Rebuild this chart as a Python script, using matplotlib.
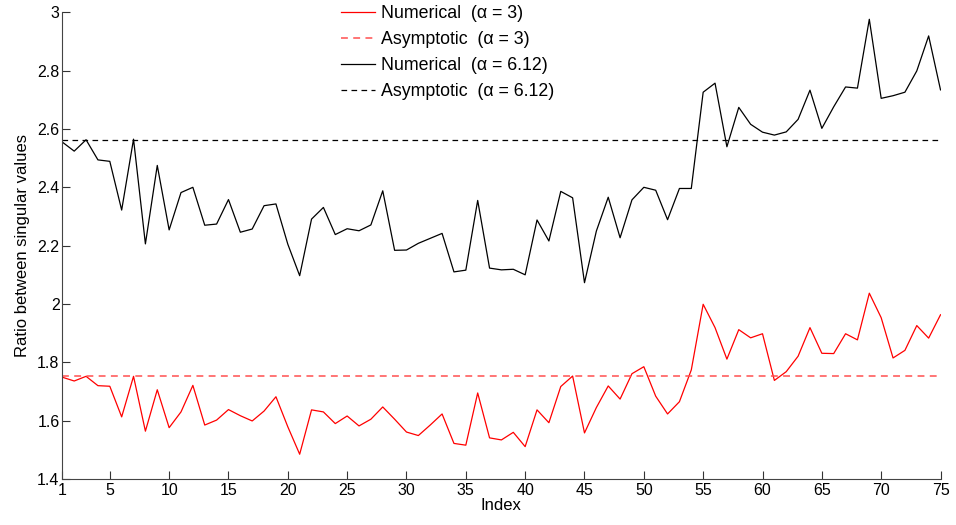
import matplotlib
matplotlib.use("Agg")
import matplotlib.pyplot as plt
import numpy as np
from matplotlib.ticker import FormatStrFormatter

plt.rcParams['font.family'] = ['Liberation Sans', 'DejaVu Sans']

# singular value ratios, one per index
index = np.arange(1, 76)
ratio_a3 = [1.749, 1.736, 1.752, 1.720, 1.718, 1.613, 1.752, 1.564, 1.706, 1.576,
            1.630, 1.721, 1.585, 1.602, 1.638, 1.617, 1.599, 1.633, 1.682, 1.579,
            1.485, 1.637, 1.630, 1.590, 1.616, 1.582, 1.605, 1.647, 1.605, 1.561,
            1.549, 1.585, 1.623, 1.522, 1.516, 1.695, 1.541, 1.534, 1.560, 1.511,
            1.637, 1.593, 1.717, 1.753, 1.558, 1.645, 1.719, 1.674, 1.761, 1.785,
            1.684, 1.623, 1.665, 1.774, 1.999, 1.919, 1.811, 1.912, 1.884, 1.898,
            1.738, 1.768, 1.821, 1.919, 1.831, 1.830, 1.898, 1.877, 2.037, 1.953,
            1.815, 1.841, 1.926, 1.883, 1.963]
ratio_a612 = [2.555, 2.524, 2.563, 2.494, 2.489, 2.322, 2.565, 2.206, 2.475, 2.254,
              2.382, 2.400, 2.270, 2.274, 2.358, 2.246, 2.257, 2.337, 2.343, 2.205,
              2.097, 2.291, 2.331, 2.238, 2.258, 2.251, 2.271, 2.388, 2.184, 2.185,
              2.208, 2.225, 2.242, 2.110, 2.116, 2.355, 2.123, 2.117, 2.119, 2.100,
              2.288, 2.216, 2.386, 2.364, 2.073, 2.250, 2.366, 2.227, 2.357, 2.400,
              2.390, 2.289, 2.396, 2.396, 2.726, 2.757, 2.539, 2.674, 2.616, 2.589,
              2.579, 2.590, 2.633, 2.733, 2.602, 2.676, 2.744, 2.740, 2.976, 2.705,
              2.714, 2.726, 2.799, 2.919, 2.734]
asym_a3 = 1.753
asym_a612 = 2.562

xticks = [1, 5, 10, 15, 20, 25, 30, 35, 40, 45, 50, 55, 60, 65, 70, 75]
yticks = [1.4, 1.6, 1.8, 2.0, 2.2, 2.4, 2.6, 2.8, 3.0]

fig = plt.figure(figsize=(9.56, 5.25), dpi=100)
ax = fig.add_axes([0.0652, 0.0876, 0.9186, 0.889])

ax.plot(index, ratio_a3, color='red', lw=0.9, label='Numerical  (\u03b1 = 3)')
ax.plot(index, np.full(len(index), asym_a3), color='#ff5050', lw=1.1,
        dashes=(4.5, 3.5), label='Asymptotic  (\u03b1 = 3)')
ax.plot(index, ratio_a612, color='black', lw=0.9, label='Numerical  (\u03b1 = 6.12)')
ax.plot(index, np.full(len(index), asym_a612), color='black', lw=0.9,
        dashes=(4.5, 3.5), label='Asymptotic  (\u03b1 = 6.12)')

ax.set_xlim(1, 75)
ax.set_ylim(1.4, 3.0)
ax.set_xticks(xticks)
ax.set_yticks(yticks)
ax.yaxis.set_major_formatter(FormatStrFormatter('%g'))
ax.tick_params(direction='in', length=6, width=0.8, color='#333333',
               labelsize=11.5, pad=3)
ax.tick_params(axis='y', pad=2)
for s in ['top', 'right']:
    ax.spines[s].set_visible(False)
for s in ['left', 'bottom']:
    ax.spines[s].set_color('#444444')
    ax.spines[s].set_linewidth(0.8)

ax.set_xlabel('Index', fontsize=12, labelpad=0)
ax.set_ylabel('Ratio between singular values', fontsize=12, labelpad=5)

ax.legend(loc='upper left', bbox_to_anchor=(0.3567, 0.99),
          bbox_transform=fig.transFigure, frameon=False, borderpad=0,
          borderaxespad=0, fontsize=12.8, handlelength=1.9,
          handletextpad=0.33, labelspacing=0.5)

fig.savefig('out.png', dpi=100)
